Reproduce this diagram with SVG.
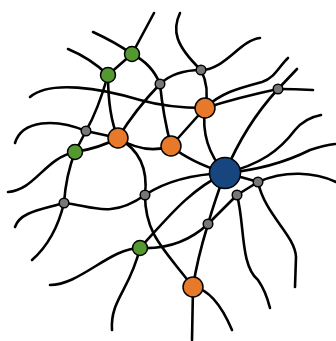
<svg xmlns="http://www.w3.org/2000/svg" width="336" height="341" viewBox="0 0 336 341">
<style>
.e{fill:none;stroke:#000;stroke-width:2.6;stroke-linecap:round}
.n{stroke:#000;stroke-width:1.5}
.g{fill:#54992f}
.o{fill:#e7792b}
.b{fill:#17457e}
.s{fill:#777}
</style>
<rect width="336" height="341" fill="#fff"/>
<g id="connectors">
<path class="e" d="M154,13 Q146,28 132,54"/>
<path class="e" d="M93,32 Q115,42 132,54"/>
<path class="e" d="M132,54 L108,75"/>
<path class="e" d="M132,54 Q152,64 160,84"/>
<path class="e" d="M68,49 Q90,58 108,75"/>
<path class="e" d="M108,75 Q98,110 86,131"/>
<path class="e" d="M108,75 Q108,115 118,138"/>
<path class="e" d="M30,97 C50,80 100,88 140,100 C165,107 185,108 205,108"/>
<path class="e" d="M160,84 Q175,70 201,70"/>
<path class="e" d="M160,84 Q135,110 118,138"/>
<path class="e" d="M160,84 Q163,115 171,146"/>
<path class="e" d="M180,13 C172,30 175,45 201,70"/>
<path class="e" d="M201,70 C225,70 240,40 260,38"/>
<path class="e" d="M201,70 Q210,88 205,108"/>
<path class="e" d="M205,108 Q240,97 278,89"/>
<path class="e" d="M278,89 Q295,89 313,90"/>
<path class="e" d="M278,89 L297,69"/>
<path class="e" d="M278,89 Q245,125 225,173"/>
<path class="e" d="M205,108 C222,92 240,88 262,82 C275,78 280,65 288,58"/>
<path class="e" d="M205,108 L171,146"/>
<path class="e" d="M205,108 Q200,145 225,173"/>
<path class="e" d="M15,143 C22,120 55,118 86,131"/>
<path class="e" d="M86,131 L118,138"/>
<path class="e" d="M86,131 L75,152"/>
<path class="e" d="M75,152 Q100,148 118,138"/>
<path class="e" d="M75,152 C45,158 35,190 8,192"/>
<path class="e" d="M75,152 Q66,175 64,203"/>
<path class="e" d="M118,138 Q145,155 171,146"/>
<path class="e" d="M118,138 C140,150 148,170 145,195"/>
<path class="e" d="M171,146 Q190,162 225,173"/>
<path class="e" d="M64,203 C40,210 20,212 15,227"/>
<path class="e" d="M64,203 Q55,240 32,260"/>
<path class="e" d="M64,203 C90,205 110,220 145,195"/>
<path class="e" d="M145,195 Q175,175 225,173"/>
<path class="e" d="M145,195 C145,235 165,250 193,287"/>
<path class="e" d="M140,248 C170,215 190,190 225,173"/>
<path class="e" d="M140,248 Q180,250 208,224"/>
<path class="e" d="M140,248 C110,248 80,285 50,285"/>
<path class="e" d="M140,248 C130,290 110,300 112,330"/>
<path class="e" d="M225,173 Q215,200 208,224"/>
<path class="e" d="M208,224 Q197,260 193,287"/>
<path class="e" d="M193,287 L192,340"/>
<path class="e" d="M193,287 Q215,290 232,330"/>
<path class="e" d="M225,173 C260,165 280,150 295,130 Q305,118 321,115"/>
<path class="e" d="M225,173 C260,170 290,160 310,150 Q325,145 335,144"/>
<path class="e" d="M225,173 Q245,178 258,182"/>
<path class="e" d="M258,182 C285,170 315,172 336,182"/>
<path class="e" d="M258,182 L237,195"/>
<path class="e" d="M237,195 L208,224"/>
<path class="e" d="M258,182 C265,215 295,235 296,257 L295,287"/>
<path class="e" d="M237,195 C245,225 240,265 258,280 C265,290 268,300 270,308"/>
</g>
<g id="g1"><circle class="n g" cx="132" cy="54" r="7.5"/></g>
<g id="g2"><circle class="n g" cx="108" cy="75" r="7.5"/></g>
<g id="g3"><circle class="n g" cx="75" cy="152" r="7.5"/></g>
<g id="g4"><circle class="n g" cx="140" cy="248" r="7.5"/></g>
<g id="o1"><circle class="n o" cx="205" cy="108" r="10"/></g>
<g id="o2"><circle class="n o" cx="118" cy="138" r="10"/></g>
<g id="o3"><circle class="n o" cx="171" cy="146" r="10"/></g>
<g id="o4"><circle class="n o" cx="193" cy="287" r="10"/></g>
<g id="b"><circle class="n b" cx="225" cy="173" r="15.5"/></g>
<g id="s1"><circle class="n s" cx="160" cy="84" r="4.8"/></g>
<g id="s2"><circle class="n s" cx="201" cy="70" r="4.8"/></g>
<g id="s3"><circle class="n s" cx="278" cy="89" r="4.8"/></g>
<g id="s4"><circle class="n s" cx="86" cy="131" r="4.8"/></g>
<g id="s5"><circle class="n s" cx="145" cy="195" r="4.8"/></g>
<g id="s6"><circle class="n s" cx="64" cy="203" r="4.8"/></g>
<g id="s7"><circle class="n s" cx="258" cy="182" r="4.8"/></g>
<g id="s8"><circle class="n s" cx="237" cy="195" r="4.8"/></g>
<g id="s9"><circle class="n s" cx="208" cy="224" r="4.8"/></g>
</svg>
